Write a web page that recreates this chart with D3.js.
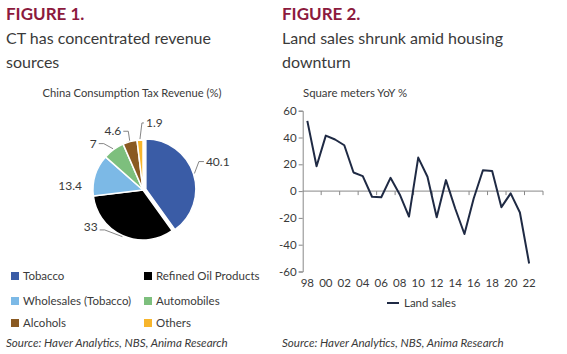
<!DOCTYPE html>
<html>
<head>
<meta charset="utf-8">
<script src="https://cdn.jsdelivr.net/npm/d3@7"></script>
<style>
  body { margin: 0; background: #fff; }
  text { font-family: Lato, "Open Sans", sans-serif; }
</style>
</head>
<body>
<div id="chart"></div>
<script>
// == DATA == //
const pieCategories = ["Tobacco", "Refined Oil Products", "Wholesales (Tobacco)", "Automobiles", "Alcohols", "Others"];
const pieValues = [40.1, 33, 13.4, 7, 4.6, 1.9];
const pieColors = ["#3a5ca6", "#000000", "#7cb9e6", "#7dbf7d", "#8a5a22", "#f7b52c"];

const years = d3.range(1998, 2024);   // axis runs one slot past the last point
const landSales = [52.4, 18.6, 41.4, 38.5, 34.2, 13.9, 11.2, -4.2, -4.6, 9.9, -2.5, -19,
    25, 10.7, -19.5, 8.2, -13, -32, -5.5, 15.6, 15, -12, -1.7, -16, -54];
const yTicks = [-60, -40, -20, 0, 20, 40, 60];
const xTickLabels = ["98", "00", "02", "04", "06", "08", "10", "12", "14", "16", "18", "20", "22"];

const source = "Source: Haver Analytics, NBS, Anima Research";

const width = 567, height = 354;
const textCol = "#3a3a3a";

const svg = d3.select("#chart").append("svg")
    .attr("width", width)
    .attr("height", height);

// == TITLES == //
function titleBlock(x, fig, lines) {
    svg.append("text").attr("x", x).attr("y", 20)
        .attr("font-size", 17).attr("font-weight", 700).attr("fill", "#8c1a3d")
        .text(fig);
    lines.forEach((l, i) => {
        svg.append("text").attr("x", x).attr("y", 44 + i * 24)
            .attr("font-size", 16).attr("fill", textCol)
            .text(l);
    });
    svg.append("text").attr("x", x).attr("y", 347)
        .attr("font-size", 11.6).attr("font-style", "italic").attr("fill", textCol)
        .text(source);
}
titleBlock(6, "FIGURE 1.", ["CT has concentrated revenue", "sources"]);
titleBlock(282, "FIGURE 2.", ["Land sales shrunk amid housing", "downturn"]);

// == PIE == //
const cx = 143, cy = 190, r = 50;
svg.append("text").attr("x", 132).attr("y", 97)
    .attr("text-anchor", "middle").attr("font-size", 11.2).attr("fill", textCol)
    .text("China Consumption Tax Revenue (%)");

const pie = d3.pie().sort(null).value(d => d)(pieValues);
const arc = d3.arc().innerRadius(0).outerRadius(r);
const explode = [3, 0, 0, 0, 0, 0];

// label placement: angle shift (deg) from slice middle and distance from centre
const labelShift = [-3, 31, -14, -11, -12, 13];
const labelDist = [80, 64, 73, 68, 66, 68];
const showLeader = [true, true, false, true, true, true];

const pieG = svg.append("g").attr("transform", `translate(${cx},${cy})`);

pieG.selectAll(".slice")
    .data(pie)
    .enter().append("path")
    .attr("class", "slice")
    .attr("d", arc)
    .attr("fill", (d, i) => pieColors[i])
    .attr("stroke", "#fff")
    .attr("stroke-width", 1.5)
    .attr("transform", (d, i) => {
        const a = (d.startAngle + d.endAngle) / 2;
        return `translate(${Math.sin(a) * explode[i]},${-Math.cos(a) * explode[i]})`;
    });

pie.forEach((d, i) => {
    const mid = (d.startAngle + d.endAngle) / 2;
    const la = mid + labelShift[i] * Math.PI / 180;
    const lx = Math.sin(la) * labelDist[i];
    const ly = -Math.cos(la) * labelDist[i];
    const right = lx > 0;
    const label = String(pieValues[i]);
    const txt = pieG.append("text")
        .attr("x", lx).attr("y", ly + 4)
        .attr("text-anchor", "middle")
        .attr("font-size", 12).attr("fill", textCol)
        .text(label);
    if (showLeader[i]) {
        const w = txt.node().getComputedTextLength();
        const ex = Math.sin(mid) * (r + 1 + explode[i]);
        const ey = -Math.cos(mid) * (r + 1 + explode[i]);
        let sx, sy;
        if (i === 5) { sx = lx - w / 2 - 2; sy = ly; }
        else { sx = right ? lx - w / 2 - 2 : lx + w / 2 + 2; sy = ly + (i === 1 ? 3 : 0); }
        const hx = right ? sx - 5 : sx + 5;
        pieG.append("path")
            .attr("d", i === 5 ? `M${sx},${sy}L${sx - 2},${sy}L${ex},${ey}` : `M${sx},${sy}L${hx},${sy}L${ex},${ey}`)
            .attr("fill", "none").attr("stroke", "#777").attr("stroke-width", 0.9);
    }
});

// == PIE LEGEND == //
const legRowY = [276, 301, 323];
const legColX = [11, 144];
pieCategories.forEach((c, i) => {
    const lx = legColX[i % 2], ly = legRowY[Math.floor(i / 2)];
    svg.append("rect").attr("x", lx).attr("y", ly - 4).attr("width", 8).attr("height", 8)
        .attr("fill", pieColors[i]);
    svg.append("text").attr("x", lx + 12).attr("y", ly + 4)
        .attr("font-size", 11.5).attr("fill", textCol).text(c);
});

// == LINE CHART == //
const x = d3.scaleBand().domain(years).range([302.7, 543]).padding(0);
const y = d3.scaleLinear().domain([-60, 60]).range([271.5, 110.7]);
const bw = x.bandwidth();

svg.append("text").attr("x", 303).attr("y", 97)
    .attr("font-size", 11.4).attr("fill", textCol).text("Square meters YoY %");

const yAxis = svg.append("g")
    .attr("transform", `translate(${x.range()[0]},0)`)
    .call(d3.axisLeft(y).tickValues(yTicks).tickSize(4).tickPadding(2).tickFormat(d => String(d)));
yAxis.select(".domain").attr("stroke", "#888");
yAxis.selectAll(".tick line").attr("stroke", "#888");
yAxis.selectAll(".tick text").attr("font-size", 11.5).attr("fill", textCol)
    .attr("font-family", "Lato, sans-serif");

// zero line with ticks every two years
const xAxis = svg.append("g").attr("transform", `translate(0,${y(0)})`);
xAxis.append("line").attr("x1", x.range()[0]).attr("x2", x.range()[1])
    .attr("stroke", "#888");
xAxis.selectAll(".xt")
    .data(years.filter((yr, i) => i % 2 === 1))
    .enter().append("line")
    .attr("x1", d => x(d) + bw).attr("x2", d => x(d) + bw)
    .attr("y1", 0).attr("y2", 4)
    .attr("stroke", "#888");

svg.selectAll(".xlab")
    .data(xTickLabels)
    .enter().append("text")
    .attr("x", (d, i) => x(years[i * 2]) + bw / 2)
    .attr("y", 287)
    .attr("text-anchor", "middle")
    .attr("font-size", 11.5).attr("fill", textCol)
    .text(d => d);

const line = d3.line()
    .x((d, i) => x(years[i]) + bw / 2)
    .y(d => y(d));

svg.append("path")
    .datum(landSales)
    .attr("d", line)
    .attr("fill", "none")
    .attr("stroke", "#1f2a44")
    .attr("stroke-width", 2)
    .attr("stroke-linejoin", "round");

// line legend
svg.append("line").attr("x1", 387).attr("x2", 399).attr("y1", 303).attr("y2", 303)
    .attr("stroke", "#1f2a44").attr("stroke-width", 2);
svg.append("text").attr("x", 404).attr("y", 307)
    .attr("font-size", 11.5).attr("fill", textCol).text("Land sales");
</script>
</body>
</html>
